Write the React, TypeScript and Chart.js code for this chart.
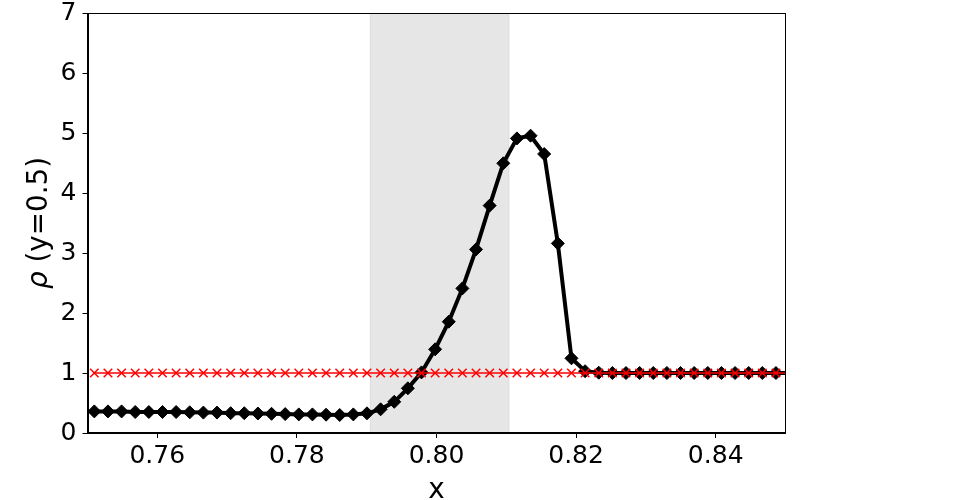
import React, { useEffect, useRef } from "react";
import { Chart, registerables } from "chart.js";

Chart.register(...registerables);

const xValues = [
  0.750977, 0.75293, 0.754883, 0.756836, 0.758789, 0.760742, 0.762695, 0.764648,
  0.766602, 0.768555, 0.770508, 0.772461, 0.774414, 0.776367, 0.77832, 0.780273,
  0.782227, 0.78418, 0.786133, 0.788086, 0.790039, 0.791992, 0.793945, 0.795898,
  0.797852, 0.799805, 0.801758, 0.803711, 0.805664, 0.807617, 0.80957, 0.811523,
  0.813477, 0.81543, 0.817383, 0.819336, 0.821289, 0.823242, 0.825195, 0.827148,
  0.829102, 0.831055, 0.833008, 0.834961, 0.836914, 0.838867, 0.84082, 0.842773,
  0.844727, 0.84668, 0.848633, 0.850586,
];

const densityProfile = [
  0.36, 0.36, 0.36, 0.35, 0.35, 0.35, 0.35, 0.345,
  0.34, 0.34, 0.33, 0.33, 0.325, 0.32, 0.315, 0.31,
  0.31, 0.305, 0.3, 0.31, 0.328, 0.395, 0.52, 0.745,
  1.01, 1.395, 1.855, 2.41, 3.06, 3.79, 4.495, 4.91,
  4.955, 4.65, 3.16, 1.245, 1.03, 1.005, 1.0, 1.0,
  1.0, 1.0, 1.0, 1.0, 1.0, 1.0, 1.0, 1.0,
  1.0, 1.0, 1.0, 1.0,
];

const referenceDensity = [
  1, 1, 1, 1, 1, 1, 1, 1, 1, 1, 1, 1, 1, 1, 1, 1, 1, 1, 1, 1, 1, 1, 1, 1, 1, 1,
  1, 1, 1, 1, 1, 1, 1, 1, 1, 1, 1, 1, 1, 1, 1, 1, 1, 1, 1, 1, 1, 1, 1, 1, 1, 1,
];

const xTickValues = [0.76, 0.78, 0.8, 0.82, 0.84];
const yTickValues = [0, 1, 2, 3, 4, 5, 6, 7];
const shadeStart = 0.7905;
const shadeEnd = 0.8104;
const xTitle = "x";
const yTitleSymbol = "ρ";
const yTitleRest = " (y=0.5)";

const FONT = "'DejaVu Sans', sans-serif";

const decorPlugin = {
  id: "decor",
  beforeDatasetsDraw(chart: any) {
    const { ctx, chartArea, scales } = chart;
    const x0 = scales.x.getPixelForValue(shadeStart);
    const x1 = scales.x.getPixelForValue(shadeEnd);
    ctx.save();
    ctx.fillStyle = "rgba(128,128,128,0.2)";
    ctx.fillRect(x0, chartArea.top, x1 - x0, chartArea.bottom - chartArea.top);
    ctx.strokeStyle = "rgba(128,128,128,0.15)";
    ctx.lineWidth = 1;
    ctx.beginPath();
    ctx.moveTo(x0, chartArea.top);
    ctx.lineTo(x0, chartArea.bottom);
    ctx.moveTo(x1, chartArea.top);
    ctx.lineTo(x1, chartArea.bottom);
    ctx.stroke();
    ctx.restore();
  },
  afterDraw(chart: any) {
    const { ctx, chartArea } = chart;
    ctx.save();
    ctx.strokeStyle = "#000";
    ctx.lineWidth = 1;
    const l = Math.round(chartArea.left) + 0.5;
    const r = Math.round(chartArea.right) - 0.5;
    const t = Math.round(chartArea.top) + 0.5;
    const b = Math.round(chartArea.bottom) - 0.5;
    ctx.strokeRect(l, t, r - l, b - t);

    ctx.fillStyle = "#000";
    ctx.font = `27.8px ${FONT}`;
    ctx.textAlign = "center";
    ctx.textBaseline = "alphabetic";
    ctx.fillText(xTitle, (chartArea.left + chartArea.right) / 2, 497.5);

    const cy = (chartArea.top + chartArea.bottom) / 2;
    ctx.translate(46.5, cy);
    ctx.rotate(-Math.PI / 2);
    ctx.font = `italic 27.8px ${FONT}`;
    const w1 = ctx.measureText(yTitleSymbol).width;
    ctx.font = `27.8px ${FONT}`;
    const w2 = ctx.measureText(yTitleRest).width;
    const start = -(w1 + w2) / 2;
    ctx.textAlign = "left";
    ctx.font = `italic 27.8px ${FONT}`;
    ctx.fillText(yTitleSymbol, start, 0);
    ctx.font = `27.8px ${FONT}`;
    ctx.fillText(yTitleRest, start + w1, 0);
    ctx.restore();
  },
};

export default function App() {
  const canvasRef = useRef<HTMLCanvasElement | null>(null);

  useEffect(() => {
    const canvas = canvasRef.current;
    if (!canvas) return;
    const chart = new Chart(canvas, {
      type: "line",
      data: {
        datasets: [
          {
            label: "reference",
            data: xValues.map((x, i) => ({ x, y: referenceDensity[i] })),
            borderColor: "#ff0000",
            backgroundColor: "#ff0000",
            borderWidth: 1.5,
            pointStyle: "crossRot",
            pointRadius: 6,
            pointBorderWidth: 1.5,
            pointBorderColor: "#ff0000",
            fill: false,
            tension: 0,
            clip: 0,
            order: 0,
          },
          {
            label: "rho",
            data: xValues.map((x, i) => ({ x, y: densityProfile[i] })),
            borderColor: "#000000",
            backgroundColor: "#000000",
            borderWidth: 4,
            pointStyle: "rectRot",
            pointRadius: 6.5,
            pointBorderWidth: 1,
            pointBorderColor: "#000000",
            fill: false,
            tension: 0,
            clip: 0,
            order: 1,
          },
        ],
      },
      options: {
        animation: false,
        responsive: false,
        maintainAspectRatio: false,
        devicePixelRatio: 1,
        events: [],
        layout: { padding: { left: 0, right: 189.5, top: 13, bottom: 0 } },
        plugins: {
          legend: { display: false },
          tooltip: { enabled: false },
          title: { display: false },
        },
        scales: {
          x: {
            type: "linear",
            min: 0.75,
            max: 0.85,
            afterBuildTicks: (scale: any) => {
              scale.ticks = xTickValues.map((v) => ({ value: v }));
            },
            afterFit: (scale: any) => {
              scale.height = 67;
              scale.paddingLeft = 0;
              scale.paddingRight = 0;
            },
            ticks: {
              color: "#000",
              font: { family: FONT, size: 25 },
              padding: 3,
              maxRotation: 0,
              autoSkip: false,
              callback: (v: any) => Number(v).toFixed(2),
            },
            grid: {
              display: true,
              drawOnChartArea: false,
              drawTicks: true,
              tickLength: 5,
              color: "#000",
              lineWidth: 1,
            },
            border: { display: true, color: "#000", width: 1 },
          },
          y: {
            type: "linear",
            min: 0,
            max: 7,
            afterBuildTicks: (scale: any) => {
              scale.ticks = yTickValues.map((v) => ({ value: v }));
            },
            afterFit: (scale: any) => {
              scale.width = 87.5;
              scale.paddingTop = 0;
              scale.paddingBottom = 0;
            },
            ticks: {
              color: "#000",
              font: { family: FONT, size: 25 },
              padding: 6,
              autoSkip: false,
              callback: (v: any) => String(v),
            },
            grid: {
              display: true,
              drawOnChartArea: false,
              drawTicks: true,
              tickLength: 5,
              color: "#000",
              lineWidth: 1,
            },
            border: { display: true, color: "#000", width: 1 },
          },
        },
      },
      plugins: [decorPlugin],
    });
    return () => chart.destroy();
  }, []);

  return (
    <div style={{ position: "absolute", left: 0, top: 0, width: 975, height: 500, background: "#fff" }}>
      <canvas ref={canvasRef} width={975} height={500} style={{ width: 975, height: 500, display: "block" }} />
    </div>
  );
}
